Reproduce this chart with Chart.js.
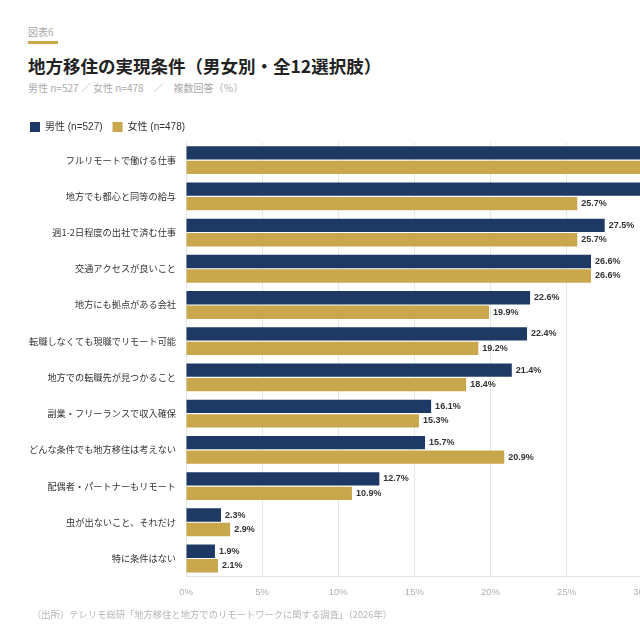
<!DOCTYPE html>
<html lang="ja">
<head>
<meta charset="utf-8">
<script src="https://cdn.jsdelivr.net/npm/chart.js@4"></script>
<style>
    html, body { margin: 0; padding: 0; background: #fff; overflow: hidden; }
    body { width: 640px; height: 640px; position: relative; font-family: "Noto Sans CJK JP", "Noto Sans", sans-serif; }
    .fig { position: absolute; left: 28px; top: 24px; font-size: 10px; color: #a8a8a8; }
    .bar { position: absolute; left: 28px; top: 41px; width: 30px; height: 3px; background: #c9a74c; }
    .title { position: absolute; left: 28px; top: 53px; font-size: 17.5px; font-weight: bold; color: #222; }
    .sub { position: absolute; left: 28px; top: 80px; font-size: 10px; color: #aaa; }
    .src { position: absolute; left: 32px; top: 607px; font-size: 9.3px; color: #b5b5b5; }
    .wrap { position: absolute; left: 0; top: 112px; width: 815px; height: 496px; }
</style>
</head>
<body>
<div class="fig">図表6</div>
<div class="bar"></div>
<div class="title">地方移住の実現条件（男女別・全12選択肢）</div>
<div class="sub">男性 n=527 ／ 女性 n=478　／　複数回答（％）</div>
<div class="wrap"><canvas id="chart"></canvas></div>
<div class="src">（出所）テレリモ総研「地方移住と地方でのリモートワークに関する調査」（2026年）</div>

<script>
const categories = [
    "フルリモートで働ける仕事",
    "地方でも都心と同等の給与",
    "週1-2日程度の出社で済む仕事",
    "交通アクセスが良いこと",
    "地方にも拠点がある会社",
    "転職しなくても現職でリモート可能",
    "地方での転職先が見つかること",
    "副業・フリーランスで収入確保",
    "どんな条件でも地方移住は考えない",
    "配偶者・パートナーもリモート",
    "虫が出ないこと、それだけ",
    "特に条件はない"
];
// first rows run past the visible edge, values estimated
const male = [36.2, 31.8, 27.5, 26.6, 22.6, 22.4, 21.4, 16.1, 15.7, 12.7, 2.3, 1.9];
const female = [33.1, 25.7, 25.7, 26.6, 19.9, 19.2, 18.4, 15.3, 20.9, 10.9, 2.9, 2.1];
const xTicks = [0, 5, 10, 15, 20, 25, 30, 35, 40];

const NAVY = "#1e3a64";
const GOLD = "#c9a74c";

const valueLabels = {
    id: "valueLabels",
    afterDatasetsDraw(chart) {
        const ctx = chart.ctx;
        ctx.save();
        ctx.font = "bold 9px 'Liberation Sans', sans-serif";
        ctx.fillStyle = "#333";
        ctx.textBaseline = "middle";
        chart.data.datasets.forEach((ds, i) => {
            chart.getDatasetMeta(i).data.forEach((bar, j) => {
                ctx.fillText(ds.data[j].toFixed(1) + "%", bar.x + 4, bar.y);
            });
        });
        ctx.restore();
    }
};

new Chart(document.getElementById("chart"), {
    type: "bar",
    data: {
        labels: categories,
        datasets: [
            { label: "男性 (n=527)", data: male, backgroundColor: NAVY },
            { label: "女性 (n=478)", data: female, backgroundColor: GOLD }
        ]
    },
    options: {
        indexAxis: "y",
        responsive: true,
        maintainAspectRatio: false,
        animation: false,
        categoryPercentage: 0.8,
        barPercentage: 0.92,
        layout: { padding: { left: 20, right: 20, top: 0, bottom: 0 } },
        plugins: {
            legend: {
                position: "top",
                align: "start",
                labels: {
                    boxWidth: 10,
                    boxHeight: 10,
                    padding: 10,
                    color: "#333",
                    font: { size: 10, family: "'Liberation Sans', 'Noto Sans CJK JP', sans-serif" }
                }
            },
            tooltip: { enabled: false }
        },
        scales: {
            x: {
                min: 0,
                max: 40,
                afterBuildTicks: (scale) => { scale.ticks = xTicks.map(v => ({ value: v })); },
                ticks: {
                    color: "#b0b0b0",
                    padding: 10,
                    font: { size: 9.5, family: "'Liberation Sans', sans-serif" },
                    callback: (v) => v + "%"
                },
                grid: { color: "#e6e6e6", drawTicks: false },
                border: { color: "#e6e6e6" }
            },
            y: {
                afterFit: (scale) => { scale.width = 166; },
                ticks: {
                    color: "#333",
                    padding: 10,
                    font: { size: 9.2, family: "'Noto Sans CJK JP', sans-serif" }
                },
                grid: { display: false, drawTicks: false },
                border: { color: "#e6e6e6" }
            }
        }
    },
    plugins: [valueLabels]
});
</script>
</body>
</html>
